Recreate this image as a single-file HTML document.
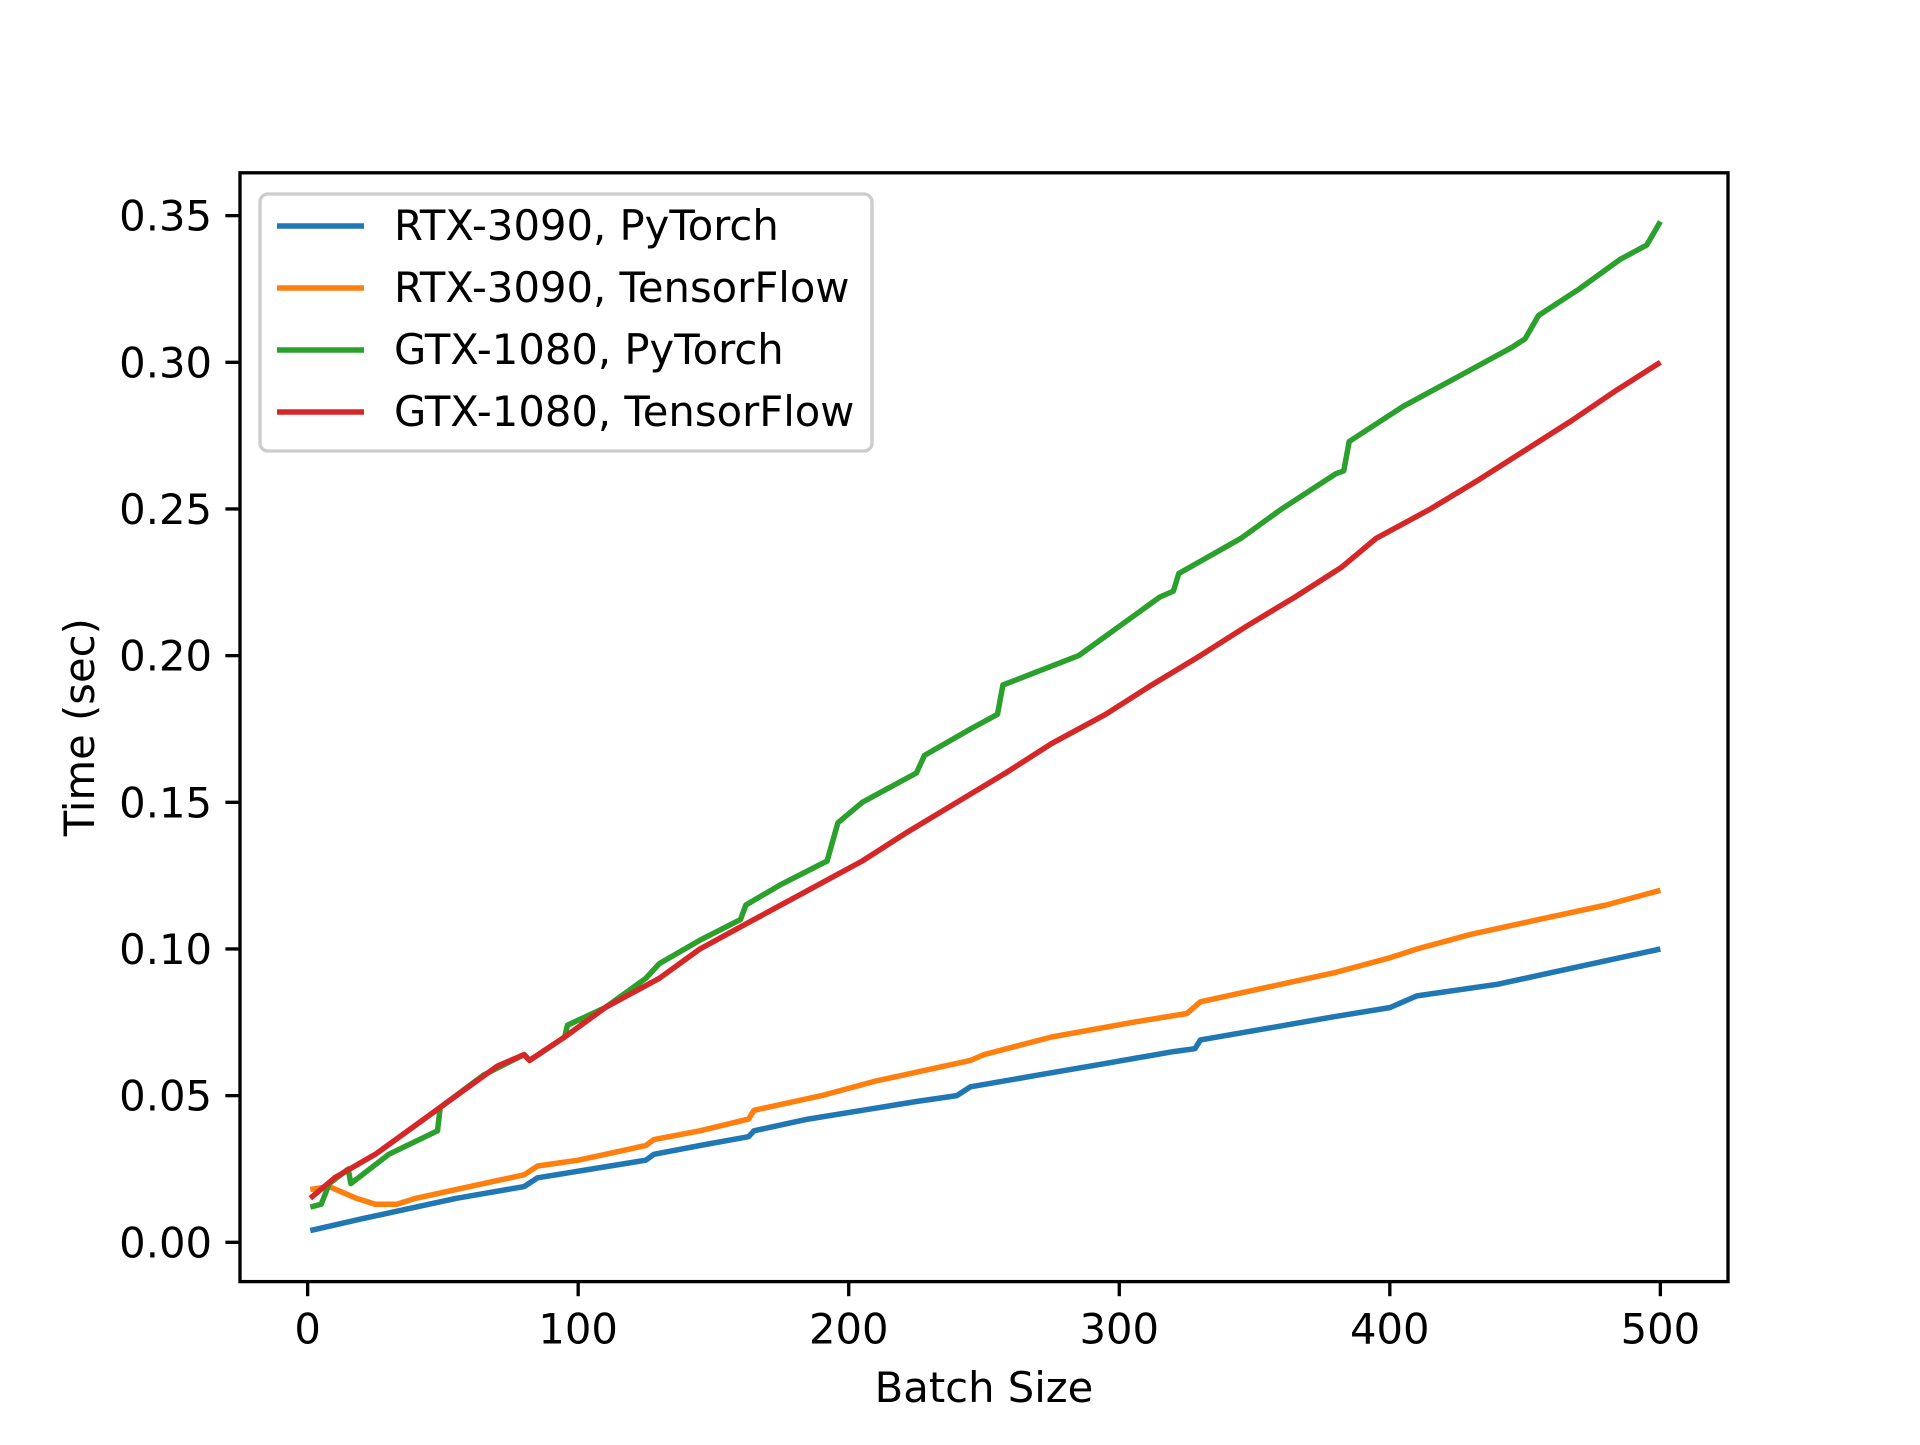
<!DOCTYPE html>
<html><head><meta charset="utf-8"><style>
body{margin:0;background:#fff}
svg text{font-family:"DejaVu Sans","Liberation Sans",sans-serif;font-size:41.7px;fill:#000}
</style></head><body>
<svg id="chart" width="1920" height="1440" xmlns="http://www.w3.org/2000/svg">
<rect width="1920" height="1440" fill="#fff"/>
<g id="plot"></g>
</svg>
<script>
const xTicks=[0,100,200,300,400,500];
const yTicks=[0,0.05,0.10,0.15,0.20,0.25,0.30,0.35];
const yTickLabels=["0.00","0.05","0.10","0.15","0.20","0.25","0.30","0.35"];
const seriesNames=["RTX-3090, PyTorch","RTX-3090, TensorFlow","GTX-1080, PyTorch","GTX-1080, TensorFlow"];
const blueX=[1,20,40,55,80,85,105,125,128,145,163,165,185,205,225,240,245,270,295,320,328,330,355,380,400,410,440,460,480,500];
const blueY=[0.004,0.008,0.012,0.015,0.019,0.022,0.025,0.028,0.030,0.033,0.036,0.038,0.042,0.045,0.048,0.050,0.053,0.057,0.061,0.065,0.066,0.069,0.073,0.077,0.080,0.084,0.088,0.092,0.096,0.100];
const orangeX=[1,8,18,25,33,40,50,65,80,85,100,115,125,128,145,163,165,190,210,235,245,250,275,305,325,330,355,380,400,410,430,455,480,500];
const orangeY=[0.018,0.019,0.015,0.013,0.013,0.015,0.017,0.020,0.023,0.026,0.028,0.031,0.033,0.035,0.038,0.042,0.045,0.050,0.055,0.060,0.062,0.064,0.070,0.075,0.078,0.082,0.087,0.092,0.097,0.100,0.105,0.110,0.115,0.120];
const greenX=[1,5,8,15,16,30,48,49,65,80,82,95,96,110,125,130,145,160,162,175,192,196,205,225,228,245,255,257,285,300,315,320,322,345,360,380,383,385,405,425,445,450,455,470,485,495,500];
const greenY=[0.012,0.013,0.020,0.025,0.020,0.030,0.038,0.046,0.057,0.064,0.062,0.070,0.074,0.080,0.090,0.095,0.103,0.110,0.115,0.122,0.130,0.143,0.150,0.160,0.166,0.175,0.180,0.190,0.200,0.210,0.220,0.222,0.228,0.240,0.250,0.262,0.263,0.273,0.285,0.295,0.305,0.308,0.316,0.325,0.335,0.340,0.348];
const redX=[1,10,25,40,55,70,80,82,95,110,130,145,165,185,205,222,240,258,275,295,312,330,347,365,382,395,415,433,450,467,483,500];
const redY=[0.015,0.022,0.030,0.040,0.050,0.060,0.064,0.062,0.070,0.080,0.090,0.100,0.110,0.120,0.130,0.140,0.150,0.160,0.170,0.180,0.190,0.200,0.210,0.220,0.230,0.240,0.250,0.260,0.270,0.280,0.290,0.300];
const colors=["#1f77b4","#ff7f0e","#2ca02c","#d62728"];
const L=240,R=1728,T=172.8,B=1281.6;
const xMin=-25,xMax=525,yMin=-0.0134,yMax=0.3646;
const sx=v=>L+(v-xMin)/(xMax-xMin)*(R-L);
const sy=v=>B-(v-yMin)/(yMax-yMin)*(B-T);
const NS="http://www.w3.org/2000/svg";
const g=document.getElementById('plot');
function mk(t,a,p){const e=document.createElementNS(NS,t);for(const k in a)e.setAttribute(k,a[k]);(p||g).appendChild(e);return e;}
const clip=mk('clipPath',{id:'c'});mk('rect',{x:L,y:T,width:R-L,height:B-T},clip);
const xs=[blueX,orangeX,greenX,redX],ys=[blueY,orangeY,greenY,redY];
const lineNames=["line-rtx3090-pytorch","line-rtx3090-tensorflow","line-gtx1080-pytorch","line-gtx1080-tensorflow"];
for(let s=0;s<4;s++){
  const d=xs[s].map((x,i)=>(i?'L':'M')+sx(x).toFixed(1)+','+sy(ys[s][i]).toFixed(1)).join('');
  const p=mk('path',{d:d,fill:'none',stroke:colors[s],'stroke-width':5.5,'stroke-linejoin':'round','clip-path':'url(#c)'});
  
  
}
const frame=mk('rect',{x:L,y:T,width:R-L,height:B-T,fill:'none',stroke:'#000','stroke-width':3.33});


xTicks.forEach(v=>{
  mk('line',{x1:sx(v),x2:sx(v),y1:B,y2:B+14.6,stroke:'#000','stroke-width':3.33});
  const t=mk('text',{x:sx(v),y:B+62,'text-anchor':'middle'});t.textContent=v;
  
  
});
yTicks.forEach((v,i)=>{
  mk('line',{x1:L,x2:L-14.6,y1:sy(v),y2:sy(v),stroke:'#000','stroke-width':3.33});
  const t=mk('text',{x:L-28,y:sy(v)+15,'text-anchor':'end'});t.textContent=yTickLabels[i];
  
  
});
const xl=mk('text',{x:(L+R)/2,y:1402,'text-anchor':'middle'});xl.textContent='Batch Size';


const yl=mk('text',{x:0,y:0,'text-anchor':'middle',transform:'translate(94,'+((T+B)/2)+') rotate(-90)'});yl.textContent='Time (sec)';


const lg=mk('g',{});


mk('rect',{x:260,y:194,width:612,height:257,rx:8,fill:'#fff','fill-opacity':0.8,stroke:'#ccc','stroke-width':3.33},lg);
seriesNames.forEach((n,i)=>{
  const y=226+i*62;
  mk('line',{x1:277,x2:364,y1:y,y2:y,stroke:colors[i],'stroke-width':5.5},lg);
  const t=mk('text',{x:394,y:y+14},lg);t.textContent=n;
  
  
});
</script>
</body></html>
